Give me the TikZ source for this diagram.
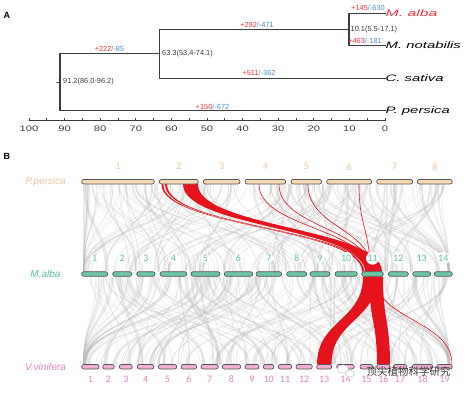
\documentclass[tikz,border=0pt]{standalone}
\usepackage{fontspec}
\setmainfont{Liberation Sans}
\newfontfamily\numfont{Carlito}
\newfontfamily\cjkfont{Noto Sans CJK SC}
\definecolor{treegray}{HTML}{3C3C3C}
\definecolor{gainred}{HTML}{E8323A}
\definecolor{lossblue}{HTML}{4A8ECF}
\definecolor{pptan}{HTML}{E8C39A}
\definecolor{ppfill}{HTML}{F5D8B2}
\definecolor{magreen}{HTML}{5CBF9D}
\definecolor{mafill}{HTML}{6DC6A5}
\definecolor{vvpink}{HTML}{E283BD}
\definecolor{vvfill}{HTML}{F3AED4}
\definecolor{linkred}{HTML}{E5131B}
\definecolor{barline}{HTML}{555555}
\newcommand{\gainloss}[2]{\textcolor{gainred}{#1}\textcolor{lossblue}{#2}}
\newcommand{\stretchx}[2]{\scalebox{#1}[1]{#2}}
% ribbon between two rows: x1a x1b (top) x2a x2b (bottom) ytop ybot
\newcommand{\synlink}[7][]{%
  \fill[#1] (#2,#6) .. controls (#2,{(#6+#7)/2}) and (#4,{(#6+#7)/2}) .. (#4,#7)
    -- (#5,#7) .. controls (#5,{(#6+#7)/2}) and (#3,{(#6+#7)/2}) .. (#3,#6) -- cycle;}
\begin{document}
\begin{tikzpicture}[x=1pt,y=-1pt,line join=round,line cap=round,
  branch/.style={draw=treegray,line width=1.1pt},
  leaf/.style={anchor=west,inner sep=0pt,font=\fontsize{9.3}{10}\selectfont\itshape},
  gl/.style={inner sep=0pt,font=\fontsize{7.4}{8}\selectfont},
  agelbl/.style={anchor=west,inner sep=0pt,text=treegray,font=\fontsize{7.4}{8}\selectfont},
  axlbl/.style={inner sep=0pt,text=treegray,font=\fontsize{8}{9}\selectfont},
  panel/.style={inner sep=0pt,font=\fontsize{9}{10}\selectfont\bfseries},
  species/.style={inner sep=0pt,font=\fontsize{10}{11}\selectfont\itshape},
  chrbar/.style={draw=barline,line width=0.7pt,rounded corners=2.2pt,minimum height=4.6pt,inner sep=0pt},
  chrnum/.style={inner sep=0.8pt,font=\numfont\fontsize{10}{11}\selectfont},
  glink/.style={fill=gray!55,fill opacity=0.3},
  rlink/.style={fill=linkred},
  rline/.style={draw=linkred,line width=0.6pt}]
\useasboundingbox (0,0) rectangle (467,392);

% ---- A: tree
\node[panel] (pa) at (7,15) {A};
\node[leaf,text=gainred] (alba) at (385.5,13.3) {\stretchx{1.7}{M. alba}};
\node[leaf] (notab) at (385.5,45.3) {\stretchx{1.6}{M. notabilis}};
\node[leaf] (csat) at (385.5,78.3) {\stretchx{1.6}{C. sativa}};
\node[leaf] (ppers) at (385.5,110.7) {\stretchx{1.6}{P. persica}};
\coordinate (n10) at (349,29.3);
\coordinate (n63) at (159.7,53.8);
\coordinate (root) at (60,82.3);
\draw[branch] (alba.west) -| (n10) |- (notab.west);
\draw[branch] (n10) -| (n63) |- (csat.west);
\draw[branch] (n63) -| (root) |- (ppers.west);
\draw[branch] (root) -- ++(-3,0);
\node[agelbl] at (350.5,29.3) {10.1(5.5-17.1)};
\node[agelbl] at (162,53.3) {63.3(53.4-74.1)};
\node[agelbl] at (63,81.7) {91.2(86.0-96.2)};
\node[gl] at (368,7.7) {\gainloss{+145}{/-630}};
\node[gl] at (365,41.3) {\gainloss{+463}{/-181}};
\node[gl] at (257,25) {\gainloss{+292}{/-471}};
\node[gl] at (109.5,49.3) {\gainloss{+222}{/-85}};
\node[gl] at (259,73.3) {\gainloss{+511}{/-362}};
\node[gl] at (212.5,106.7) {\gainloss{+150}{/-672}};
\draw[treegray,line width=0.8pt] (29,120.7) -- (385,120.7);
\foreach \t in {0,5,...,100}
  \draw[treegray,line width=0.8pt] ({385-3.56*\t},120.7) -- ++(0,-2.5);
\foreach \t in {0,10,...,100}
  \node[axlbl] at ({385-3.56*\t},128.5) {\stretchx{1.4}{\t}};

% ---- B: synteny
\node[panel] (pb) at (7,156) {B};
\pgfmathsetseed{11}
\foreach \i in {1,...,200}{
  \pgfmathsetmacro{\xa}{83+364*rnd}
  \pgfmathsetmacro{\xb}{max(83,min(448,\xa+170*rand))}
  \pgfmathsetmacro{\w}{0.4+3.5*rnd*rnd}
  \pgfmathsetmacro{\xc}{\xa+\w}
  \pgfmathsetmacro{\xd}{\xb+\w}
  \synlink[glink]{\xa}{\xc}{\xb}{\xd}{184.2}{271.5}
}
\foreach \i in {1,...,200}{
  \pgfmathsetmacro{\xa}{83+364*rnd}
  \pgfmathsetmacro{\xb}{max(83,min(448,\xa+170*rand))}
  \pgfmathsetmacro{\w}{0.4+3.5*rnd*rnd}
  \pgfmathsetmacro{\xc}{\xa+\w}
  \pgfmathsetmacro{\xd}{\xb+\w}
  \synlink[glink]{\xa}{\xc}{\xb}{\xd}{276.5}{364.4}
}
% red blocks
\synlink[rlink]{161.5}{163.3}{362}{364}{184.2}{271.5}
\synlink[rlink]{165}{167}{365}{367}{184.2}{271.5}
\synlink[rlink]{183}{198}{366}{382}{184.2}{271.5}
\draw[rline] (259,184.2) .. controls (259,228) and (369,228) .. (369,271.5);
\draw[rline] (279,184.2) .. controls (279,228) and (371,228) .. (371,271.5);
\draw[rline] (308,184.2) .. controls (308,228) and (372,228) .. (372,271.5);
\draw[rline] (359,184.2) .. controls (359,228) and (370,228) .. (370,271.5);
\synlink[rlink]{363}{377}{317}{331.5}{276.5}{364.4}
\synlink[rlink]{369}{383}{377}{390}{276.5}{364.4}
\draw[rline] (375,276.5) .. controls (375,320) and (452,320) .. (452,364.4);

% chromosomes
\node[species,text=pptan] (ppname) at (45.5,181.7) {P.persica};
\node[species,text=magreen] (maname) at (45.5,274) {M.alba};
\node[species,text=vvpink] (vvname) at (45.5,366.7) {V.vinifera};
\foreach \a/\b [count=\k] in {81.7/154.3,159.3/198.3,203.3/240,245/285.7,291/321.7,
    326.7/371.7,376.7/412.7,417.3/452.3}{
  \pgfmathsetmacro{\c}{(\a+\b)/2}
  \pgfmathsetmacro{\w}{\b-\a}
  \node[chrbar,fill=ppfill,minimum width=\w pt] (pp\k) at (\c,181.7) {};
  \node[chrnum,text=pptan] at (\c,166.7) {\k};
}
\foreach \a/\b [count=\k] in {81.7/107.7,112.7/131.7,136.7/155,160/186.7,191/220,
    224.3/252.7,256/281.7,286.7/306.7,310/330,335/357.3,361.7/383.3,388.3/408.3,
    412.7/430.7,434.3/452.3}{
  \pgfmathsetmacro{\c}{(\a+\b)/2}
  \pgfmathsetmacro{\w}{\b-\a}
  \node[chrbar,fill=mafill,minimum width=\w pt] (ma\k) at (\c,274) {};
  \node[chrnum,text=magreen,fill=white,circle,inner sep=0.3pt] at (\c,258.3) {\k};
}
\foreach \a/\b [count=\k] in {81.7/99,102.7/114.3,119.3/132.3,137.3/154,158.3/176.7,
    181/196.7,201/218.3,222.3/240.7,245/259,263.3/274,278.3/291.7,296/312.3,
    316.7/331.7,336.7/354.3,360/372.7,376.7/390,393.3/406.7,412.3/432.7,436.7/452.3}{
  \pgfmathsetmacro{\c}{(\a+\b)/2}
  \pgfmathsetmacro{\w}{\b-\a}
  \node[chrbar,fill=vvfill,minimum width=\w pt] (vv\k) at (\c,366.7) {};
  \node[chrnum,text=vvpink] at (\c,379.3) {\k};
}

% watermark
\draw[gray!45,fill=white,line width=0.5pt] (343,369) ellipse (5.5 and 4.2);
\draw[gray!45,fill=white,line width=0.5pt] (350,373.5) ellipse (4.6 and 3.6);
\node[inner sep=0pt,text=black!78,font=\cjkfont\fontsize{10.5}{11}\selectfont] (wm) at (408.5,371.5) {顶尖植物科学研究};
\end{tikzpicture}
\end{document}
